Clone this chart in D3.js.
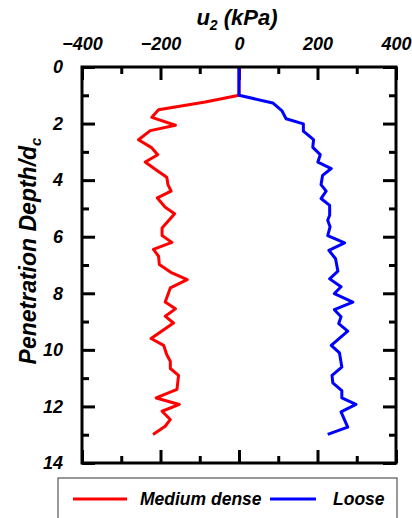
<!DOCTYPE html>
<html>
<head>
<meta charset="utf-8">
<script src="https://cdn.jsdelivr.net/npm/d3@7"></script>
<style>
  body { margin: 0; background: #fff; }
  svg text { font-family: "Liberation Sans", Arial, sans-serif; font-weight: bold; font-style: italic; }
</style>
</head>
<body>
<svg id="chart" width="412" height="518"></svg>
<script>
// Medium dense sample: pore pressure u2 (kPa) vs normalised depth
const depthMedium = [0, 1.0, 1.24, 1.51, 1.78, 2.06, 2.25, 2.57, 2.86, 3.10, 3.36, 3.66, 3.90, 4.16, 4.39, 4.63, 4.96, 5.19, 5.69, 5.96, 6.20, 6.45, 6.69, 6.98, 7.28, 7.52, 7.81, 8.31, 8.55, 8.81, 9.05, 9.60, 9.84, 10.17, 10.40, 10.66, 10.90, 11.40, 11.70, 11.93, 12.17, 12.46, 12.70, 12.99];
const u2Medium = [0, 0, -86, -205, -222, -162, -226, -256, -222, -207, -239, -209, -184, -181, -173, -208, -188, -164, -196, -196, -171, -218, -205, -203, -171, -132, -175, -188, -162, -188, -167, -224, -192, -184, -175, -175, -154, -158, -211, -152, -196, -175, -188, -219];

// Loose sample
const depthLoose = [0, 1.0, 1.27, 1.54, 1.83, 2.01, 2.27, 2.57, 2.84, 3.10, 3.36, 3.59, 3.83, 4.16, 4.39, 4.65, 4.89, 5.24, 5.42, 5.65, 5.96, 6.22, 6.48, 6.78, 7.22, 7.49, 7.77, 8.01, 8.31, 8.58, 8.83, 9.07, 9.34, 9.84, 10.11, 10.61, 10.90, 11.17, 11.44, 11.70, 11.93, 12.19, 12.73, 12.99];
const u2Loose = [0, 0, 86, 109, 120, 164, 164, 190, 188, 207, 201, 235, 213, 209, 222, 209, 231, 231, 226, 232, 226, 269, 229, 246, 252, 231, 260, 243, 290, 243, 260, 254, 277, 235, 256, 262, 237, 239, 262, 262, 298, 260, 277, 226];

const xMajorTicks = [-400, -200, 0, 200, 400];
const xMinorTicks = [-300, -100, 100, 300];
const yMajorTicks = [0, 2, 4, 6, 8, 10, 12, 14];
const yMinorTicks = [1, 3, 5, 7, 9, 11, 13];

const seriesNames = ["Medium dense", "Loose"];
const seriesColors = ["#ff0000", "#0000ff"];

const svg = d3.select("#chart");
const box = { left: 82, right: 396, top: 67, bottom: 463 };

const x = d3.scaleLinear().domain([-400, 400]).range([box.left, box.right]);
const y = d3.scaleLinear().domain([0, 14]).range([box.top, box.bottom]);

// axes: ticks point inward
function styleAxis(g) {
  g.select(".domain").remove();
  g.selectAll(".tick line").attr("stroke", "#000").attr("stroke-width", 3);
  g.selectAll(".tick text").attr("fill", "#000").attr("font-size", 18);
}

svg.append("g").attr("transform", `translate(0,${box.top})`)
  .call(d3.axisTop(x).tickValues(xMajorTicks).tickSizeInner(-13).tickSizeOuter(0).tickPadding(17).tickFormat(d3.format("d")))
  .call(styleAxis);
svg.append("g").attr("transform", `translate(0,${box.top})`)
  .call(d3.axisTop(x).tickValues(xMinorTicks).tickSizeInner(-7).tickSizeOuter(0).tickFormat(""))
  .call(styleAxis);
svg.append("g").attr("transform", `translate(0,${box.bottom})`)
  .call(d3.axisBottom(x).tickValues(xMajorTicks).tickSizeInner(-13).tickSizeOuter(0).tickFormat(""))
  .call(styleAxis);
svg.append("g").attr("transform", `translate(0,${box.bottom})`)
  .call(d3.axisBottom(x).tickValues(xMinorTicks).tickSizeInner(-7).tickSizeOuter(0).tickFormat(""))
  .call(styleAxis);
svg.append("g").attr("transform", `translate(${box.left},0)`)
  .call(d3.axisLeft(y).tickValues(yMajorTicks).tickSizeInner(-13).tickSizeOuter(0).tickPadding(19).tickFormat(d3.format("d")))
  .call(styleAxis);
svg.append("g").attr("transform", `translate(${box.left},0)`)
  .call(d3.axisLeft(y).tickValues(yMinorTicks).tickSizeInner(-7).tickSizeOuter(0).tickFormat(""))
  .call(styleAxis);
svg.append("g").attr("transform", `translate(${box.right},0)`)
  .call(d3.axisRight(y).tickValues(yMajorTicks).tickSizeInner(-13).tickSizeOuter(0).tickFormat(""))
  .call(styleAxis);
svg.append("g").attr("transform", `translate(${box.right},0)`)
  .call(d3.axisRight(y).tickValues(yMinorTicks).tickSizeInner(-7).tickSizeOuter(0).tickFormat(""))
  .call(styleAxis);

// lines (loose drawn last, its blue stem shows on top at u2 = 0)
const line = d3.line().x(d => x(d[0])).y(d => y(d[1]));
const series = [
  d3.zip(u2Medium, depthMedium),
  d3.zip(u2Loose, depthLoose)
];
series.forEach((pts, i) => {
  svg.append("path")
    .attr("d", line(pts))
    .attr("fill", "none")
    .attr("stroke", seriesColors[i])
    .attr("stroke-width", 3)
    .attr("stroke-linejoin", "round");
});

// frame
svg.append("rect")
  .attr("x", box.left).attr("y", box.top)
  .attr("width", box.right - box.left).attr("height", box.bottom - box.top)
  .attr("fill", "none").attr("stroke", "#000").attr("stroke-width", 3);

// title
const title = svg.append("text")
  .attr("x", 237).attr("y", 25)
  .attr("text-anchor", "middle").attr("font-size", 22);
title.append("tspan").text("u");
title.append("tspan").attr("font-size", 14).attr("dy", 5).text("2");
title.append("tspan").attr("dy", -5).text(" (kPa)");

// y label
const ylab = svg.append("text")
  .attr("transform", "translate(36,251) rotate(-90)")
  .attr("text-anchor", "middle").attr("font-size", 23);
ylab.append("tspan").text("Penetration Depth/d");
ylab.append("tspan").attr("font-size", 15).attr("dy", 5).text("c");

// legend
const legend = svg.append("g");
legend.append("rect")
  .attr("x", 58).attr("y", 478).attr("width", 339).attr("height", 60)
  .attr("fill", "#fff").attr("stroke", "#333").attr("stroke-width", 1);
const legendItems = [
  { x1: 73, x2: 127, tx: 140 },
  { x1: 270, x2: 316, tx: 333 }
];
legendItems.forEach((it, i) => {
  legend.append("line")
    .attr("x1", it.x1).attr("x2", it.x2).attr("y1", 499).attr("y2", 499)
    .attr("stroke", seriesColors[i]).attr("stroke-width", 3);
  legend.append("text")
    .attr("x", it.tx).attr("y", 505)
    .attr("font-size", 17.5)
    .text(seriesNames[i]);
});
</script>
</body>
</html>
